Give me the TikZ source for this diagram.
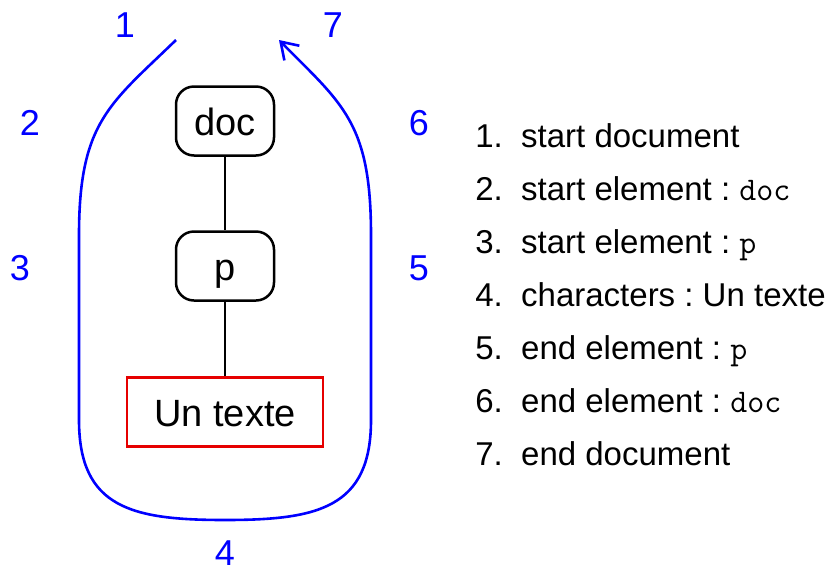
\documentclass[tikz,border=0pt]{standalone}
\usepackage{fontspec}
\setmainfont{Liberation Sans}
\usetikzlibrary{arrows.meta}
\frenchspacing
\definecolor{pureblue}{RGB}{0,0,255}
\definecolor{purered}{RGB}{230,0,0}
\tikzset{
  elem/.style={draw, line width=2.5pt, rounded corners=18pt, minimum width=98pt,
    minimum height=69pt, text height=28pt, text depth=0pt, inner sep=0pt,
    font=\fontsize{38}{40}\selectfont},
  textbox/.style={draw=purered, line width=2.5pt, minimum width=196pt,
    minimum height=69pt, text height=28pt, text depth=0pt, inner sep=0pt,
    font=\fontsize{38}{40}\selectfont},
  edge/.style={line width=2.5pt},
  walk/.style={draw=pureblue, line width=2.6pt,
    -{Straight Barb[length=16pt,width=21pt,line width=2.6pt]}},
  step label/.style={text=pureblue, font=\fontsize{36}{38}\selectfont, inner sep=0pt},
  itemnum/.style={anchor=base east, inner sep=0pt, font=\fontsize{33}{36}\selectfont},
  itemtext/.style={anchor=base west, inner sep=0pt, font=\fontsize{33}{36}\selectfont}
}
\newcommand{\tagname}[1]{{\ttfamily #1}}
\begin{document}
\begin{tikzpicture}[x=1pt,y=-1pt]
\useasboundingbox (0,0) rectangle (828,574);

% tree of the document
\node[elem] (doc) at (225,121) {doc};
\node[elem] (p) at (225,266) {p};
\node[textbox] (txt) at (225,412) {Un texte};
\draw[edge] (doc) -- (p);
\draw[edge] (p) -- (txt);

% traversal of the tree
\coordinate (start) at (176,40);
\coordinate (finish) at (279,40);
\draw[walk] (start) .. controls (110,104) and (79,122) .. (79,235)
  -- (79,420) .. controls (79,508) and (132,520) .. (225,520)
  .. controls (318,520) and (371,508) .. (371,420)
  -- (371,235) .. controls (371,122) and (342,104) .. (finish);

% event numbers along the walk
\node[step label] (n1) at (125,25) {1};
\node[step label] (n2) at (30,123) {2};
\node[step label] (n3) at (20,268) {3};
\node[step label] (n4) at (225,553) {4};
\node[step label] (n5) at (419,268) {5};
\node[step label] (n6) at (419,123) {6};
\node[step label] (n7) at (333,25) {7};

% list of events
\node[itemnum] (i1) at (503,147) {1.};
\node[itemtext] (t1) at (521,147) {start document};
\node[itemnum] (i2) at (503,200) {2.};
\node[itemtext] (t2) at (521,200) {start element : \tagname{doc}};
\node[itemnum] (i3) at (503,253) {3.};
\node[itemtext] (t3) at (521,253) {start element : \tagname{p}};
\node[itemnum] (i4) at (503,306) {4.};
\node[itemtext] (t4) at (521,306) {characters : Un texte};
\node[itemnum] (i5) at (503,359) {5.};
\node[itemtext] (t5) at (521,359) {end element : \tagname{p}};
\node[itemnum] (i6) at (503,412) {6.};
\node[itemtext] (t6) at (521,412) {end element : \tagname{doc}};
\node[itemnum] (i7) at (503,465) {7.};
\node[itemtext] (t7) at (521,465) {end document};
\end{tikzpicture}
\end{document}
